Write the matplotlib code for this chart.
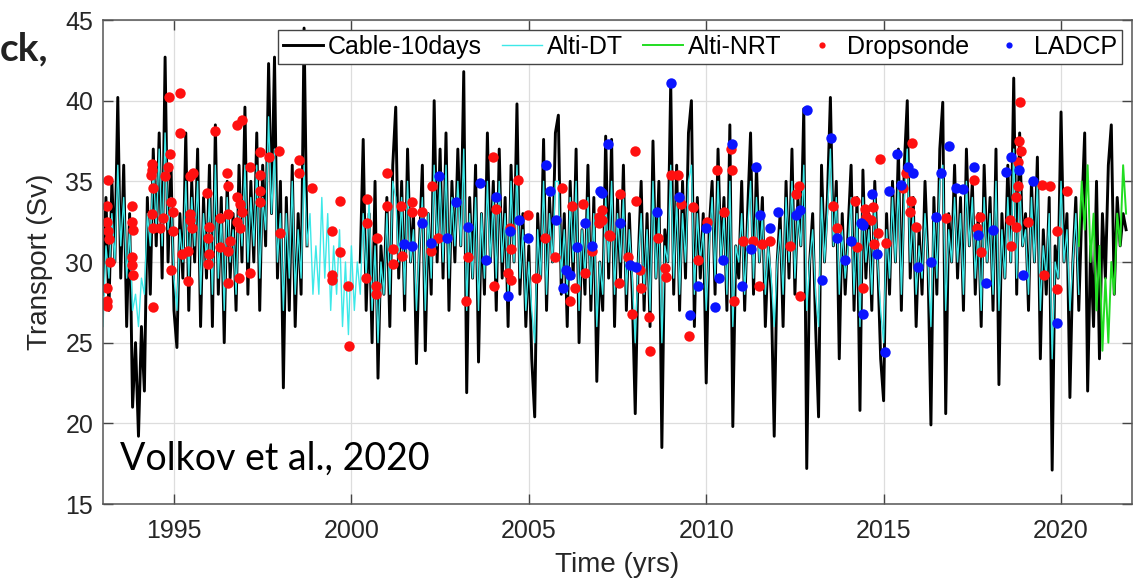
import numpy as np
import matplotlib
matplotlib.use("Agg")
import matplotlib.pyplot as plt

plt.rcParams['font.family'] = ['Liberation Sans', 'DejaVu Sans']

# --- cable transport, ~monthly samples (Sv) ---
cable_start_1 = 1993.0
cable_1 = [28, 34, 27, 35, 30, 40.2, 29, 36, 26, 33, 21, 25,          # 1993
           19.2, 26, 22, 34, 28, 37, 31, 38, 29, 42.7, 30, 36,        # 1994
           27, 24.7, 33, 29, 38, 27, 35, 30, 37, 26, 34, 29,          # 1995
           36, 26, 38.5, 28, 34, 25, 35, 29, 33, 27, 36, 30,          # 1996
           39.6, 28, 35, 30, 38, 27, 36, 31, 42.3, 33, 42.7, 29,      # 1997
           35, 22.2, 34, 27, 36, 26, 33, 28, 44.5, 31]                # 1998

cable_start_2 = 2000.25
cable_2 = [30, 37.6, 27, 33, 25, 35, 22.8, 31, 28,                    # 2000
           34, 26, 36, 39.6, 29, 35, 27, 37, 30, 33, 23.7, 31,        # 2001
           36, 24.5, 33, 28, 40, 30, 37, 29, 38, 27, 35, 30,          # 2002
           37, 31, 41.8, 21.9, 34, 29, 36, 23.8, 33, 28, 38, 30,      # 2003
           35, 27, 37, 29, 34, 26, 36, 30, 39.8, 28, 33, 26,          # 2004
           31, 24, 20.4, 33, 29, 37.6, 27, 34, 30, 38, 39.1, 28,      # 2005
           33, 26, 35, 29, 37, 25, 32, 28, 36, 27, 34, 22.6,          # 2006
           30, 27, 37.8, 29, 37.6, 26, 34, 29, 36, 27, 33, 28,        # 2007
           20.6, 30, 35, 27, 33, 26, 37.5, 29, 35, 18.5, 32, 30,      # 2008
           41.1, 28, 36, 27, 35, 29, 38, 40, 26, 34, 29, 33,          # 2009
           22.5, 32, 35, 28, 37, 30, 34, 27, 38.5, 19.8, 31, 29,      # 2010
           35, 27, 33, 38, 28, 36, 30, 34, 26, 31, 28, 19.2,          # 2011
           30, 33, 26, 35, 29, 37, 28, 34, 31, 39.5, 17.2, 30,        # 2012
           33, 26, 20.4, 36, 30, 34, 40.2, 31, 35, 24, 33, 28,        # 2013
           32, 36, 27, 34, 20.8, 35.7, 29, 33, 27, 35, 30, 24,        # 2014
           21.4, 33, 28, 35, 30, 37, 27, 36, 40, 29, 34, 26,          # 2015
           32, 28, 35, 30, 19.9, 34, 28, 37, 39.9, 20.6, 33, 30,      # 2016
           36, 29, 34, 27, 37, 31, 35, 28, 33, 26, 36, 30,            # 2017
           34, 27, 37, 22.4, 33, 29, 36, 30, 41.4, 28, 38, 31,        # 2018
           33, 27, 35, 30, 36.5, 24, 32, 28, 34, 17.1, 31, 29,        # 2019
           39.3, 30, 33, 21.6, 30, 34, 27, 33, 38, 22, 31, 26,        # 2020
           35, 24, 33, 29, 36, 38.5, 28, 34, 31, 33, 32]              # 2021

# --- altimetry (delayed time), monthly ---
alti_dt_start = 1993.0
alti_dt = [26, 31, 29, 33, 30, 36, 31, 34, 29, 32, 27, 28,
           26, 29, 28, 33, 31, 36, 32, 37, 31, 38, 32, 34,
           29, 27, 32, 30, 35, 29, 34, 31, 35, 28, 33, 30,
           34, 28, 36, 29, 33, 27, 34, 30, 32, 28, 34, 31,
           36, 30, 34, 31, 36, 29, 34, 32, 39, 33, 37, 30,
           33, 27, 33, 29, 35, 28, 32, 29, 36, 31, 33, 28,
           31, 28, 34, 29, 33, 27, 31, 28, 32, 26, 30, 25.5,
           31, 27, 30, 28, 33, 29, 34, 27, 31, 25, 30, 28,
           33, 28, 35, 34, 30, 34, 28, 35, 30, 32, 27, 31,
           34, 27, 33, 29, 36, 31, 35, 30, 36, 29, 34, 31,
           35, 31, 37, 27, 33, 29, 34, 27, 33, 29, 35, 30,
           34, 29, 35, 30, 33, 28, 35, 30, 36, 29, 32, 27,
           30, 27, 25, 32, 29, 35, 28, 33, 30, 35, 35, 29,
           32, 28, 34, 30, 35, 27, 32, 29, 34, 28, 33, 26,
           30, 28, 34, 30, 35, 28, 33, 30, 34, 28, 32, 29,
           25, 30, 33, 28, 32, 27, 35, 29, 33, 25, 31, 30,
           36, 29, 34, 28, 33, 30, 35, 36, 28, 33, 30, 32,
           27, 31, 34, 29, 35, 30, 33, 28, 35, 26, 31, 30,
           33, 28, 32, 35, 29, 34, 30, 33, 28, 31, 29, 26,
           30, 32, 28, 34, 30, 35, 29, 33, 31, 36, 27, 30,
           32, 28, 26, 34, 30, 33, 37, 31, 34, 28, 32, 29,
           31, 34, 28, 33, 26, 34, 30, 32, 28, 34, 30, 27,
           25, 32, 29, 34, 30, 35, 28, 34, 37, 30, 33, 28,
           31, 29, 33, 30, 26, 33, 29, 35, 36, 27, 32, 30,
           34, 30, 33, 28, 35, 31, 34, 29, 32, 27, 34, 30,
           33, 28, 35, 27, 32, 29, 34, 30, 37, 29, 35, 31,
           32, 28, 34, 30, 35, 27, 31, 29, 33, 24, 30, 29,
           35, 30, 32, 27, 30, 33, 28]

# --- altimetry (near real time), monthly ---
alti_nrt_start = 2020.5
alti_nrt = [31, 35, 32, 36, 30, 33, 27, 31, 24.5, 29, 25, 30, 28, 33, 31, 36, 33]

# --- ship sections ---
dropsonde_year = [1993.15, 1993.10, 1993.12, 1993.15, 1993.18, 1993.20, 1993.12, 1993.12, 1993.12,
                  1993.81, 1993.81, 1993.85, 1993.81, 1993.83, 1993.85, 1994.40, 1994.37, 1994.37,
                  1994.34, 1994.40, 1994.37, 1994.42, 1994.60, 1994.70, 1994.75, 1994.84, 1994.89,
                  1994.87, 1995.17, 1995.17, 1994.93, 1994.98, 1994.96, 1994.93, 1995.22, 1995.40,
                  1995.40, 1995.45, 1995.45, 1995.50, 1995.45, 1995.55, 1995.94, 1995.99, 1995.97,
                  1995.99, 1995.97, 1996.15, 1996.30, 1996.30, 1996.53, 1996.53, 1996.50, 1996.53,
                  1996.58, 1996.53, 1996.77, 1996.93, 1996.77, 1996.87, 1996.91, 1996.77, 1996.87,
                  1996.82, 1997.14, 1997.14, 1997.42, 1997.42, 1997.42, 1997.42, 1997.68, 1997.97,
                  1998.00, 1998.53, 1998.53, 1998.88, 1999.68, 1999.44, 1999.69, 1999.44, 1999.44,
                  1999.91, 1999.94,
                  2000.43, 2000.43, 2000.71, 2000.41, 2000.70, 2000.70, 2001.00, 2001.00, 2001.18,
                  2001.16, 2001.41, 2001.44, 2001.70, 2001.70, 2001.98, 2002.26, 2002.23, 2002.44,
                  2003.24, 2003.29, 2003.99, 2004.07, 2004.01, 2004.46, 2004.51, 2004.41, 2004.51,
                  2004.70, 2004.98, 2005.19, 2005.45, 2005.73, 2005.94, 2006.23, 2006.53, 2006.57,
                  2006.16, 2006.30, 2006.99, 2006.99, 2006.78, 2007.25,
                  2007.05, 2007.05, 2007.58, 2007.30, 2007.98, 2008.01, 2007.80, 2008.13, 2007.55,
                  2008.15, 2007.92, 2008.39, 2008.41, 2008.64, 2008.83, 2008.86, 2009.02, 2009.21,
                  2009.30, 2009.63, 2009.77, 2009.52, 2010.02, 2010.30, 2010.49, 2010.71, 2010.74,
                  2010.77, 2011.04, 2011.32, 2011.58, 2011.81, 2011.50, 2012.35, 2012.61, 2012.52,
                  2012.65, 2013.57, 2013.68, 2014.19, 2014.47, 2014.24, 2014.42, 2014.49,
                  2014.90, 2014.70, 2014.65, 2014.84, 2014.72, 2015.08, 2015.81, 2015.55, 2015.64,
                  2015.78, 2015.73, 2015.90, 2016.76, 2017.56, 2017.72, 2017.62, 2017.75, 2018.60,
                  2018.55, 2018.72, 2018.74, 2018.78, 2018.83, 2018.81, 2018.88, 2018.78, 2019.06,
                  2019.47, 2019.68, 2019.53, 2019.88, 2019.88, 2020.17]
dropsonde_sv = [35.1, 33.5, 32.5, 31.9, 31.4, 30.0, 28.4, 27.6, 27.3,
                33.5, 32.5, 32.0, 30.3, 29.8, 29.2, 27.2, 36.1, 35.7,
                35.4, 34.6, 33.0, 32.1, 32.1, 32.7, 35.3, 35.9, 36.7,
                40.2, 40.5, 38.0, 33.7, 33.1, 31.9, 29.5, 30.5, 30.7,
                28.8, 33.0, 32.6, 32.1, 35.3, 35.5, 34.3, 32.2, 31.5,
                30.5, 29.9, 38.1, 32.7, 30.9, 30.7, 33.0, 35.5, 34.7,
                31.3, 28.7, 38.5, 38.8, 34.0, 33.6, 33.1, 32.5, 32.1,
                29.0, 29.3, 35.9, 36.8, 35.4, 34.4, 33.7, 36.5, 36.9,
                31.8, 36.3, 35.5, 34.6, 33.8, 31.9, 30.6, 29.2, 28.9,
                28.5, 24.8,
                33.9, 32.4, 31.5, 29.0, 28.5, 28.0, 35.5, 33.5, 30.8,
                29.9, 33.5, 30.4, 33.7, 33.1, 33.1, 34.7, 30.7, 31.5,
                27.6, 30.3, 36.5, 33.3, 28.5, 32.1, 30.8, 29.3, 28.9,
                35.1, 32.9, 29.0, 31.5, 30.3, 34.6, 33.5, 33.6, 29.3,
                27.6, 28.4, 32.8, 32.4, 30.7, 31.7,
                33.2, 32.6, 34.2, 31.6, 36.9, 33.8, 30.3, 29.5, 28.7,
                28.4, 26.8, 26.6, 24.5, 31.5, 29.6, 29.1, 35.4, 35.4,
                33.6, 33.4, 30.1, 25.4, 32.5, 35.7, 33.1, 37.0, 35.7,
                27.6, 31.3, 31.3, 31.1, 31.3, 28.5, 31.0, 34.7, 34.2,
                27.9, 33.5, 32.1, 33.8, 33.3, 30.9, 28.4, 32.8,
                36.4, 33.4, 32.6, 31.8, 31.1, 31.2, 37.4, 34.6, 35.5,
                33.8, 33.1, 32.2, 32.7, 35.1, 32.8, 32.1, 30.6, 31.0,
                32.6, 32.2, 34.0, 34.7, 39.9, 37.5, 36.9, 36.2, 32.5,
                34.8, 34.7, 29.2, 31.9, 28.3, 34.4]

ladcp_year = [2002.47, 2002.94, 2003.62, 2004.07, 2001.98, 2001.48, 2001.71, 2002.23, 2002.70,
              2003.29, 2003.80, 2004.48, 2004.72, 2004.98, 2005.49, 2005.59, 2005.78, 2004.40,
              2005.97, 2006.05, 2006.16, 2006.35, 2006.57, 2006.78, 2007.00, 2007.23,
              2007.05, 2007.57, 2007.84, 2008.03, 2008.61, 2009.02, 2009.23, 2009.53, 2009.77,
              2009.99, 2010.24, 2010.36, 2010.47, 2010.74, 2011.02, 2011.41, 2011.27, 2011.52,
              2011.81, 2012.02, 2012.52, 2012.63, 2012.84, 2013.27, 2013.53, 2013.68, 2013.90,
              2014.08, 2014.37, 2014.42,
              2014.41, 2014.67, 2015.16, 2015.38, 2015.50, 2015.69, 2015.83, 2014.81, 2015.05,
              2015.97, 2016.34, 2016.48, 2016.62, 2016.84, 2017.04, 2017.23, 2017.56, 2017.65,
              2017.89, 2018.08, 2018.44, 2018.60, 2018.81, 2018.92, 2019.22, 2019.88]
ladcp_sv = [35.3, 33.7, 34.9, 34.0, 32.4, 31.1, 31.0, 31.2, 31.5,
            32.2, 30.1, 31.9, 32.6, 31.5, 36.0, 34.4, 32.6, 27.9,
            28.4, 29.5, 29.2, 30.9, 32.4, 31.0, 34.4, 37.3,
            34.3, 32.4, 29.8, 29.7, 33.1, 41.1, 34.0, 26.7, 28.5,
            32.1, 27.2, 29.0, 30.1, 37.3, 28.5, 35.9, 30.8, 32.9,
            32.1, 33.1, 32.9, 33.2, 39.4, 28.9, 37.7, 31.5, 30.1,
            31.3, 32.4, 26.8,
            32.3, 34.2, 34.4, 36.7, 34.8, 35.9, 35.5, 30.5, 24.4,
            29.7, 30.0, 32.8, 35.5, 37.2, 34.6, 34.5, 35.9, 31.7,
            28.7, 32.0, 35.6, 36.5, 35.7, 29.2, 35.0, 26.2]

x_ticks = [1995, 2000, 2005, 2010, 2015, 2020]
y_ticks = [15, 20, 25, 30, 35, 40, 45]


def monthly(start, vals):
    return start + np.arange(len(vals)) / 12.0


fig = plt.figure(figsize=(11.43, 5.8), dpi=100)
ax = fig.add_axes([103 / 1143, 76 / 580, 1029 / 1143, 484 / 580])

ax.plot(monthly(cable_start_1, cable_1), cable_1, color='black', lw=2.1, label='Cable-10days')
ax.plot(monthly(cable_start_2, cable_2), cable_2, color='black', lw=2.1)
ax.plot(monthly(alti_dt_start, alti_dt), alti_dt, color='#3de8e8', lw=1.0, label='Alti-DT')
ax.plot(monthly(alti_nrt_start, alti_nrt), alti_nrt, color='#22dd22', lw=1.4, label='Alti-NRT')
ax.plot(dropsonde_year, dropsonde_sv, 'o', color='#ff1010', ms=7.5, mec='none', label='Dropsonde')
ax.plot(ladcp_year, ladcp_sv, 'o', color='#0a14ff', ms=7.5, mec='none', label='LADCP')

ax.set_xlim(1993, 2022)
ax.set_ylim(15, 45)
ax.set_xticks(x_ticks)
ax.set_yticks(y_ticks)
ax.grid(True, color='#dddddd', lw=0.9)
ax.set_axisbelow(True)
ax.tick_params(direction='in', length=7, width=1, color='#444444', top=True, right=True,
               labelsize=18, labelcolor='#262626')
ax.tick_params(axis='x', pad=11)
ax.tick_params(axis='y', pad=7)
for s in ax.spines.values():
    s.set_color('#555555')
    s.set_linewidth(1.1)

ax.set_xlabel('Time (yrs)', fontsize=20, color='#262626', labelpad=6)
ax.set_ylabel('Transport (Sv)', fontsize=20, color='#262626', labelpad=9)

leg = ax.legend(loc='upper right', ncol=5, fontsize=18, frameon=True, fancybox=False,
                handlelength=1.6, handletextpad=0.2, columnspacing=0.8, borderpad=0.2,
                borderaxespad=0.4, markerscale=0.6)
leg.get_frame().set_edgecolor('#444444')
leg.get_frame().set_linewidth(1.0)
leg.get_frame().set_alpha(1)

ax.text(0.017, 0.07, 'Volkov et al., 2020', transform=ax.transAxes, fontsize=27,
        family='Lato', color='black', va='baseline')
fig.text(0.0, 0.895, 'ck,', fontsize=28, family='Lato', weight='bold', color='#222222')

fig.savefig('out.png', dpi=100)
